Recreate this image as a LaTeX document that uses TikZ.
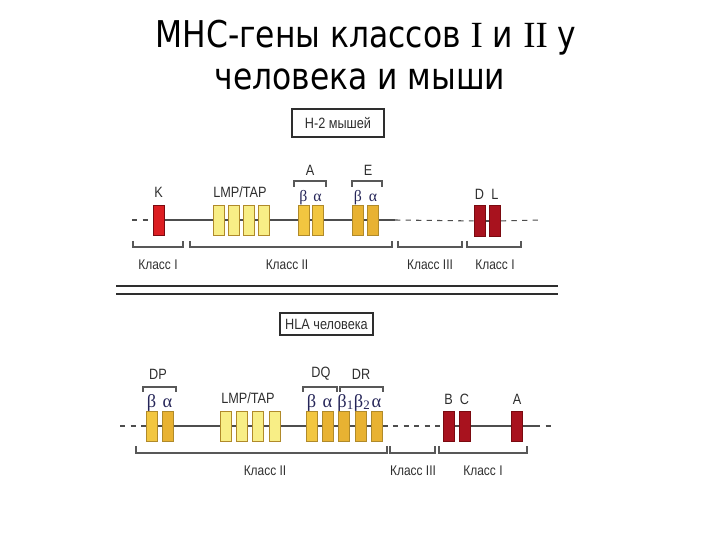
\documentclass[tikz,border=0pt]{standalone}
\usepackage{fontspec}
\setmainfont{Liberation Sans}[FakeStretch=0.85]
\newfontfamily\titlefont[FakeStretch=0.85]{DejaVu Sans}
\newfontfamily\titleserif{Liberation Serif}
\newfontfamily\grk{Liberation Serif}
\usetikzlibrary{positioning,backgrounds}
\definecolor{classone}{HTML}{DC1E22}
\definecolor{classonedark}{HTML}{A8121E}
\definecolor{redborder}{HTML}{7A0A10}
\definecolor{lmptap}{HTML}{F8EE86}
\definecolor{classtwo}{HTML}{F2C640}
\definecolor{classtwodark}{HTML}{E8B232}
\definecolor{goldborder}{HTML}{B08A2A}
\definecolor{ink}{HTML}{2E2E2E}

\begin{document}
\begin{tikzpicture}[x=0.02cm,y=-0.02cm,
  gene/.style={draw=goldborder,line width=0.5pt,minimum width=0.22cm,minimum height=0.6cm,inner sep=0pt},
  lmp/.style={gene,fill=lmptap},
  ctwo/.style={gene,fill=classtwo},
  ctwodark/.style={gene,fill=classtwodark},
  cone/.style={gene,draw=redborder,fill=classone},
  conedark/.style={gene,draw=redborder,fill=classonedark},
  chrom/.style={draw=ink!85,line width=0.6pt},
  brk/.style={draw=ink!80,line width=0.6pt},
  lbl/.style={text=ink,font=\fontsize{8.5}{9}\selectfont,inner sep=1pt},
  glbl/.style={text=ink!80!blue,font=\grk\fontsize{9}{10}\selectfont,inner sep=0pt,anchor=base},
  hglbl/.style={glbl,font=\grk\fontsize{10.5}{11}\selectfont},
  cls/.style={text=ink,font=\fontsize{8}{9}\selectfont,inner sep=0pt}]
  \useasboundingbox (0,0) rectangle (720,540);

  % title
  \node[anchor=base,font=\titlefont\fontsize{21}{25}\selectfont] (title1) at (366,48)
    {МНС-гены классов {\titleserif I} и {\titleserif II} у};
  \node[anchor=base,font=\titlefont\fontsize{21}{25}\selectfont] (title2) at (360,90)
    {человека и мыши};

  % H-2 of the mouse
  \node[draw=ink,line width=0.6pt,minimum width=1.84cm,minimum height=0.56cm,lbl] (mbox) at (338,123) {H-2 мышей};

  \node[cone] (mK) at (158.5,220) {};
  \node[lmp] (mLmp1) at (219,220) {};
  \node[lmp] (mLmp2) at (234,220) {};
  \node[lmp] (mLmp3) at (249,220) {};
  \node[lmp] (mLmp4) at (263.5,220) {};
  \node[ctwo] (mAb) at (303.5,220) {};
  \node[ctwo] (mAa) at (317.5,220) {};
  \node[ctwodark] (mEb) at (358,220) {};
  \node[ctwodark] (mEa) at (373,220) {};
  \node[conedark,minimum height=0.62cm] (mD) at (479.5,221) {};
  \node[conedark,minimum height=0.62cm] (mL) at (495,221) {};

  \coordinate (mLeft) at (132,220);
  \coordinate (mIII) at (395,220);
  \coordinate (mRight) at (543,220);
  \begin{scope}[on background layer]
    \draw[chrom,dashed] (mLeft) -- (mK);
    \draw[chrom] (mK) -- (mIII);
    \draw[chrom,dashed] (mIII) -- (mD);
    \draw[chrom] (mD) -- (mL);
    \draw[chrom,dashed] (mL) -- (mRight);
  \end{scope}

  \node[lbl,above=3pt of mK] {K};
  \node[lbl,above=3pt of mLmp2.north east] {LMP/TAP};
  \node[glbl] at ([yshift=2pt]mAb.north) {β};
  \node[glbl] at ([yshift=2pt]mAa.north) {α};
  \node[glbl] at ([yshift=2pt]mEb.north) {β};
  \node[glbl] at ([yshift=2pt]mEa.north) {α};
  \node[lbl,above=2pt of mD] {D};
  \node[lbl,above=2pt of mL] {L};

  \draw[brk] (294,187) |- (326,181) -- (326,187);
  \draw[brk] (352,187) |- (382,181) -- (382,187);
  \node[lbl] at (310,170) {A};
  \node[lbl] at (368,170) {E};

  \draw[brk] (133,241) |- (183,247) -- (183,241);
  \draw[brk] (190,241) |- (392,247) -- (392,241);
  \draw[brk] (398,241) |- (462,247) -- (462,241);
  \draw[brk] (467,241) |- (521,247) -- (521,241);
  \node[cls] at (158,265) {Класс I};
  \node[cls] at (287,265) {Класс II};
  \node[cls] at (430,265) {Класс III};
  \node[cls] at (495,265) {Класс I};

  % separator
  \draw[ink,line width=0.8pt] (116,286) -- (558,286);
  \draw[ink,line width=0.8pt] (116,294) -- (558,294);

  % HLA of man
  \node[draw=ink,line width=0.6pt,minimum width=1.86cm,minimum height=0.44cm,lbl] (hbox) at (326.5,324) {HLA человека};

  \node[ctwo] (hDPb) at (151.5,426) {};
  \node[ctwodark] (hDPa) at (167.5,426) {};
  \node[lmp] (hLmp1) at (226,426) {};
  \node[lmp] (hLmp2) at (242,426) {};
  \node[lmp] (hLmp3) at (258,426) {};
  \node[lmp] (hLmp4) at (274.5,426) {};
  \node[ctwo] (hDQb) at (311.5,426) {};
  \node[ctwodark] (hDQa) at (327.5,426) {};
  \node[ctwodark] (hDRb1) at (344,426) {};
  \node[ctwodark] (hDRb2) at (360.5,426) {};
  \node[ctwodark] (hDRa) at (376.5,426) {};
  \node[conedark] (hB) at (448.5,426) {};
  \node[conedark] (hC) at (464.5,426) {};
  \node[conedark] (hA) at (517,426) {};

  \coordinate (hLeft) at (120,426);
  \coordinate (hI) at (535,426);
  \coordinate (hRight) at (553,426);
  \begin{scope}[on background layer]
    \draw[chrom,dashed] (hLeft) -- (hDPb);
    \draw[chrom] (hDPb) -- (hDRa);
    \draw[chrom,dashed] (hDRa) -- (hB);
    \draw[chrom] (hB) -- (hI);
    \draw[chrom,dashed] (hI) -- (hRight);
  \end{scope}

  \node[hglbl] at ([yshift=2pt]hDPb.north) {β};
  \node[hglbl] at ([yshift=2pt]hDPa.north) {α};
  \node[lbl,above=3pt of hLmp2.north east] {LMP/TAP};
  \node[hglbl] at ([yshift=2pt]hDQb.north) {β};
  \node[hglbl] at ([yshift=2pt]hDQa.north) {α};
  \node[hglbl] at ([yshift=2pt,xshift=1pt]hDRb1.north) {β\textsubscript{1}};
  \node[hglbl] at ([yshift=2pt,xshift=1pt]hDRb2.north) {β\textsubscript{2}};
  \node[hglbl] at ([yshift=2pt]hDRa.north) {α};
  \node[lbl,above=2pt of hB] {B};
  \node[lbl,above=2pt of hC] {C};
  \node[lbl,above=2pt of hA] {A};

  \draw[brk] (143,392) |- (176,387) -- (176,392);
  \draw[brk] (303,392) |- (337,387) -- (337,392);
  \draw[brk] (340,392) |- (383,387) -- (383,392);
  \node[lbl] at (158,374) {DP};
  \node[lbl] at (321,374) {DQ};
  \node[lbl] at (361,374) {DR};

  \draw[brk] (136,446) |- (387,453) -- (387,446);
  \draw[brk] (390,446) |- (435,453) -- (435,446);
  \draw[brk] (439,446) |- (527,453) -- (527,446);
  \node[cls] at (265,471) {Класс II};
  \node[cls] at (413,471) {Класс III};
  \node[cls] at (483,471) {Класс I};
\end{tikzpicture}
\end{document}
